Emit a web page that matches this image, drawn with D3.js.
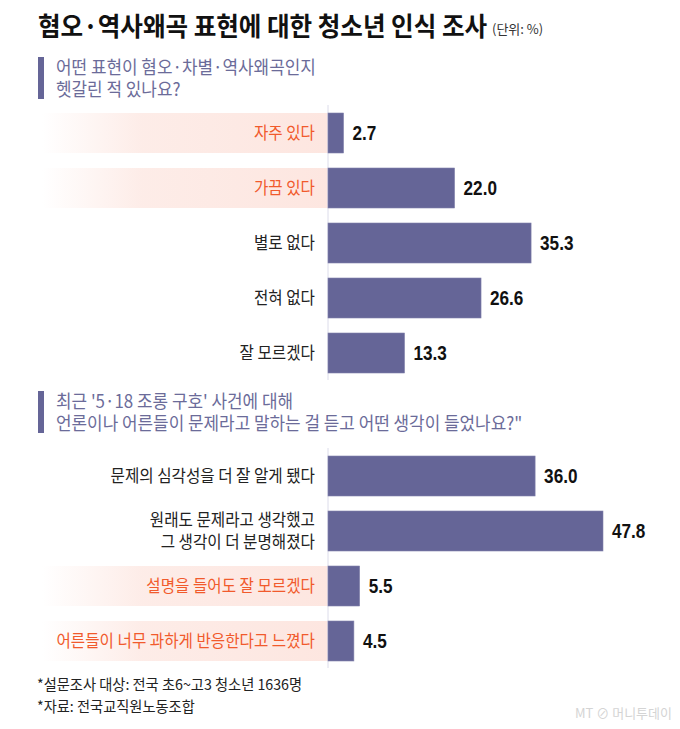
<!DOCTYPE html>
<html>
<head>
<meta charset="utf-8">
<script src="https://cdn.jsdelivr.net/npm/d3@7"></script>
<style>
  body { margin: 0; background: #fff; }
  svg { display: block; }
  text { font-family: "Noto Sans CJK KR", "Noto Sans", sans-serif; }
  .num { font-family: "Liberation Sans Narrow", "Liberation Sans", Arial, sans-serif; font-weight: bold; }
</style>
</head>
<body>
<script>
// question 1
var q1Title = ['어떤 표현이 혐오·차별·역사왜곡인지', '헷갈린 적 있나요?'];
var q1Categories = ['자주 있다', '가끔 있다', '별로 없다', '전혀 없다', '잘 모르겠다'];
var q1Values = [2.7, 22.0, 35.3, 26.6, 13.3];
var q1Highlighted = ['자주 있다', '가끔 있다'];

// question 2
var q2Title = ["최근 '5·18 조롱 구호' 사건에 대해", '언론이나 어른들이 문제라고 말하는 걸 듣고 어떤 생각이 들었나요?"'];
var q2Categories = ['문제의 심각성을 더 잘 알게 됐다', '원래도 문제라고 생각했고\n그 생각이 더 분명해졌다', '설명을 들어도 잘 모르겠다', '어른들이 너무 과하게 반응한다고 느꼈다'];
var q2Values = [36.0, 47.8, 5.5, 4.5];
var q2Highlighted = ['설명을 들어도 잘 모르겠다', '어른들이 너무 과하게 반응한다고 느꼈다'];

var notes = ['*설문조사 대상: 전국 초6~고3 청소년 1636명', '*자료: 전국교직원노동조합'];

var W = 680, H = 729;
var baseX = 328, labelX = 315;
var barColor = '#656597', hiColor = '#f15a2c';

var svg = d3.select('body').append('svg').attr('width', W).attr('height', H);

var defs = svg.append('defs');
var grad = defs.append('linearGradient').attr('id', 'pinkfade')
  .attr('x1', '0%').attr('x2', '100%').attr('y1', '0%').attr('y2', '0%');
grad.append('stop').attr('offset', '0%').attr('stop-color', '#fdeae5').attr('stop-opacity', 0);
grad.append('stop').attr('offset', '35%').attr('stop-color', '#fdeae5').attr('stop-opacity', 0.9);
grad.append('stop').attr('offset', '100%').attr('stop-color', '#fde6e0').attr('stop-opacity', 1);

var x = d3.scaleLinear().domain([0, 50]).range([baseX, baseX + 50 * 5.753]);

// squeeze text horizontally around its anchor
function squeeze(sel, sx) {
  sel.each(function () {
    var t = d3.select(this);
    var ax = +t.attr('x'), ay = +t.attr('y');
    t.attr('x', 0).attr('y', 0)
      .attr('transform', 'translate(' + ax + ',' + ay + ') scale(' + sx + ',1)');
  });
}

// multi-line text as one element with tspans
function lines(t, arr, lh) {
  arr.forEach(function (l, i) {
    t.append('tspan').attr('x', 0).attr('dy', i ? lh : 0).text(l);
  });
  return t;
}

// title
var title = svg.append('text').attr('x', 38).attr('y', 36)
  .attr('font-size', 26).attr('font-weight', 'bold').attr('fill', '#111')
  .text('혐오·역사왜곡 표현에 대한 청소년 인식 조사');
squeeze(title, 0.945);
var unit = svg.append('text').attr('x', 492).attr('y', 34)
  .attr('font-size', 13).attr('fill', '#333').text('(단위: %)');
squeeze(unit, 1.0);

function question(qlines, top) {
  svg.append('rect').attr('x', 38).attr('y', top).attr('width', 6).attr('height', 42).attr('fill', barColor);
  var t = svg.append('text').attr('x', 56).attr('y', top + 17)
    .attr('font-size', 18).attr('fill', '#6b6b99');
  squeeze(t, 0.94);
  lines(t, qlines, 22);
}

function section(cats, vals, hi, y0) {
  var y = d3.scaleBand().domain(cats)
    .range([y0, y0 + cats.length * 55 - 15]).paddingInner(15 / 55).paddingOuter(0);
  var g = svg.append('g');

  g.selectAll('rect.bg').data(cats.filter(function (c) { return hi.indexOf(c) >= 0; }))
    .enter().append('rect').attr('class', 'bg')
    .attr('x', 42).attr('width', baseX - 42)
    .attr('y', function (d) { return y(d); }).attr('height', y.bandwidth())
    .attr('fill', 'url(#pinkfade)');

  g.append('line').attr('x1', baseX).attr('x2', baseX)
    .attr('y1', y.range()[0] - 8).attr('y2', y.range()[1] + 7)
    .attr('stroke', '#dcdcea').attr('stroke-width', 1);

  g.selectAll('rect.bar').data(cats).enter().append('rect').attr('class', 'bar')
    .attr('x', x(0)).attr('y', function (d) { return y(d); })
    .attr('width', function (d, i) { return x(vals[i]) - x(0); })
    .attr('height', y.bandwidth())
    .attr('fill', barColor).attr('stroke', '#8181ab').attr('stroke-width', 0.6);

  var nums = g.selectAll('text.num').data(cats).enter().append('text').attr('class', 'num')
    .attr('x', function (d, i) { return x(vals[i]) + 9; })
    .attr('y', function (d) { return y(d) + y.bandwidth() / 2 + 7; })
    .attr('font-size', 19.5).attr('fill', '#111')
    .text(function (d, i) { return d3.format('.1f')(vals[i]); });
  squeeze(nums, 0.88);

  cats.forEach(function (c) {
    var parts = c.split('\n');
    var cy = y(c) + y.bandwidth() / 2;
    var t = g.append('text').attr('x', labelX)
      .attr('y', cy + 6 - (parts.length - 1) / 2 * 22)
      .attr('text-anchor', 'end').attr('font-size', 17)
      .attr('fill', hi.indexOf(c) >= 0 ? hiColor : '#222');
    squeeze(t, 0.92);
    lines(t, parts, 22);
  });
}

question(q1Title, 57);
section(q1Categories, q1Values, q1Highlighted, 113);
question(q2Title, 391);
section(q2Categories, q2Values, q2Highlighted, 456);

notes.forEach(function (n, i) {
  var t = svg.append('text').attr('x', 37).attr('y', 690 + i * 22)
    .attr('font-size', 15).attr('fill', '#222').text(n);
  squeeze(t, 0.95);
});

svg.append('text').attr('x', 672).attr('y', 718).attr('text-anchor', 'end')
  .attr('font-size', 13).attr('fill', '#d4d4d4').text('MT ⊘ 머니투데이');
</script>
</body>
</html>
